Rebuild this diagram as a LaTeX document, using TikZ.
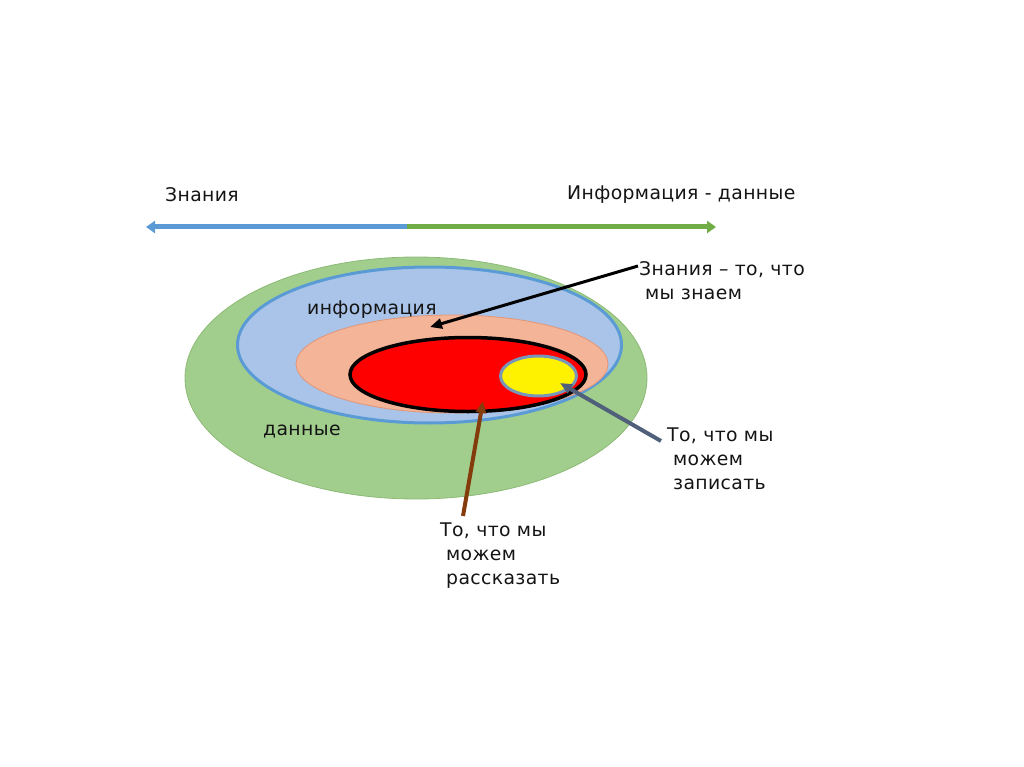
\documentclass[tikz,border=0pt]{standalone}
\usepackage{fontspec}
\setmainfont[LetterSpace=2]{DejaVu Sans}
\usetikzlibrary{arrows.meta}
\definecolor{gfill}{RGB}{162,206,141}
\definecolor{gline}{RGB}{140,186,118}
\definecolor{bfill}{RGB}{169,196,232}
\definecolor{bline}{RGB}{91,155,213}
\definecolor{sfill}{RGB}{244,180,152}
\definecolor{sline}{RGB}{226,150,120}
\definecolor{yline}{RGB}{120,150,185}
\definecolor{topgreen}{RGB}{112,173,71}
\definecolor{slate}{RGB}{80,96,122}
\definecolor{brownarr}{RGB}{132,60,12}
\definecolor{txt}{RGB}{20,20,20}
\tikzset{
  lbl/.style={inner sep=0pt, anchor=west, text=txt, font=\fontsize{18.8}{24}\selectfont, align=left},
  callout/.style={line width=#1, -{Triangle[length=12pt,width=10pt]}},
}
\begin{document}
\begin{tikzpicture}[x=1pt,y=-1pt]
\useasboundingbox (0,0) rectangle (1024,767);
% ellipses
\draw[fill=gfill, draw=gline, line width=0.8pt] (416,378) ellipse [x radius=231pt, y radius=121pt];
\draw[fill=bfill, draw=bline, line width=3pt] (429.5,345) ellipse [x radius=192pt, y radius=78pt];
\draw[fill=sfill, draw=sline, line width=0.8pt] (452,364) ellipse [x radius=156pt, y radius=49pt];
\draw[fill=red, draw=black, line width=3.5pt] (468,374.5) ellipse [x radius=118pt, y radius=37pt];
\draw[fill=yellow, draw=yline, line width=3pt] (538.5,376) ellipse [x radius=38pt, y radius=20pt];
% top arrow
\coordinate (split) at (407,227);
\coordinate (leftend) at (146,227);
\coordinate (rightend) at (716,227);
\draw[bline, line width=5pt, -{Triangle[length=9pt,width=12pt]}] (split) -- (leftend);
\draw[topgreen, line width=5pt, -{Triangle[length=9pt,width=12pt]}] (split) -- (rightend);
% labels
\node[lbl] (zn) at (165,195) {Знания};
\node[lbl] (infd) at (567,195) {Информация - данные};
\node[lbl, anchor=north west] (znt) at (639,261) {Знания – то, что\\\hspace*{6pt}мы знаем};
\node[lbl] (inf) at (307,310) {информация};
\node[lbl] (dan) at (263,432) {данные};
\node[lbl, anchor=north west] (zap) at (667,428) {То, что мы\\\hspace*{6pt}можем\\\hspace*{6pt}записать};
\node[lbl, anchor=north west] (ras) at (440,523) {То, что мы\\\hspace*{6pt}можем\\\hspace*{6pt}рассказать};
% callouts
\coordinate (salmonpt) at (430,327);
\coordinate (yellowpt) at (560,383);
\coordinate (redpt) at (483,401);
\coordinate (zntstart) at (638,266);
\coordinate (zapstart) at (661,441);
\coordinate (rasstart) at (463,516);
\draw[callout=3pt, black] (zntstart) -- (salmonpt);
\draw[callout=4pt, slate] (zapstart) -- (yellowpt);
\draw[callout=4pt, brownarr] (rasstart) -- (redpt);
\end{tikzpicture}
\end{document}
